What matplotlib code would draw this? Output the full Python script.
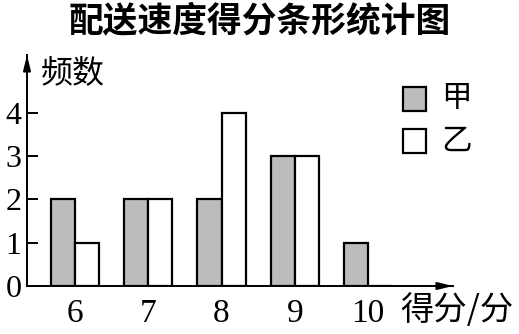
import matplotlib
matplotlib.use("Agg")
import matplotlib.pyplot as plt
from matplotlib.patches import Rectangle

plt.rcParams['font.family'] = ['Liberation Serif', 'Noto Sans CJK SC']

scores = [6, 7, 8, 9, 10]
jia = [2, 2, 2, 3, 1]
yi = [1, 2, 4, 3, 0]
yticks = [0, 1, 2, 3, 4]

W, H = 519, 334
fig = plt.figure(figsize=(W / 100, H / 100), dpi=100)

def fx(px):
    return px / W

def fy(py):
    return 1 - py / H

ax = fig.add_axes([fx(27), fy(286), fx(453) - fx(27), fy(55) - fy(286)])
ax.set_xlim(5.345, 11.16)
ax.set_ylim(0, 5.33)

gray = "#bcbcbc"
w = 0.328
ax.bar([s - w / 2 for s in scores], jia, width=w, color=gray, edgecolor="black", linewidth=1.6)
ax.bar([s + w / 2 for s in scores], yi, width=w, color="white", edgecolor="black", linewidth=1.6)

for side in ["top", "right"]:
    ax.spines[side].set_visible(False)
for side in ["left", "bottom"]:
    ax.spines[side].set_linewidth(1.4)

ax.annotate("", xy=(1.0, 0), xytext=(0.99, 0), xycoords="axes fraction",
            arrowprops=dict(arrowstyle="-|>,head_length=0.9,head_width=0.22", color="black", lw=1.4))
ax.annotate("", xy=(0, 1.0), xytext=(0, 0.99), xycoords="axes fraction",
            arrowprops=dict(arrowstyle="-|>,head_length=0.9,head_width=0.22", color="black", lw=1.4))

ax.set_yticks(yticks)
ax.set_yticklabels([str(v) for v in yticks], fontsize=23)
ax.tick_params(axis="y", direction="in", length=8, width=1.4, pad=4)
ax.set_xticks(scores)
ax.set_xticklabels([str(s) for s in scores], fontsize=24)
ax.tick_params(axis="x", length=0, pad=9)

fig.text(0.5, fy(21), "配送速度得分条形统计图", ha="center", va="center",
         fontsize=25, fontweight="bold", family=["Noto Sans CJK SC"])
fig.text(fx(41), fy(74), "频数", ha="left", va="center", fontsize=23, family=["Noto Sans CJK SC"])
fig.text(fx(400), fy(311), "得分/分", ha="left", va="center", fontsize=24, family=["Noto Sans CJK SC"])

# legend
for i, (name, col) in enumerate([("甲", gray), ("乙", "white")]):
    top = 87 + i * 42
    fig.patches.append(Rectangle((fx(403), fy(top + 24)), fx(23), fy(0) - fy(24),
                                 transform=fig.transFigure, facecolor=col,
                                 edgecolor="black", linewidth=1.6))
    fig.text(fx(441), fy(top + 12), name, ha="left", va="center", fontsize=22,
             family=["Noto Sans CJK SC"])

fig.savefig("out.png", dpi=100)
